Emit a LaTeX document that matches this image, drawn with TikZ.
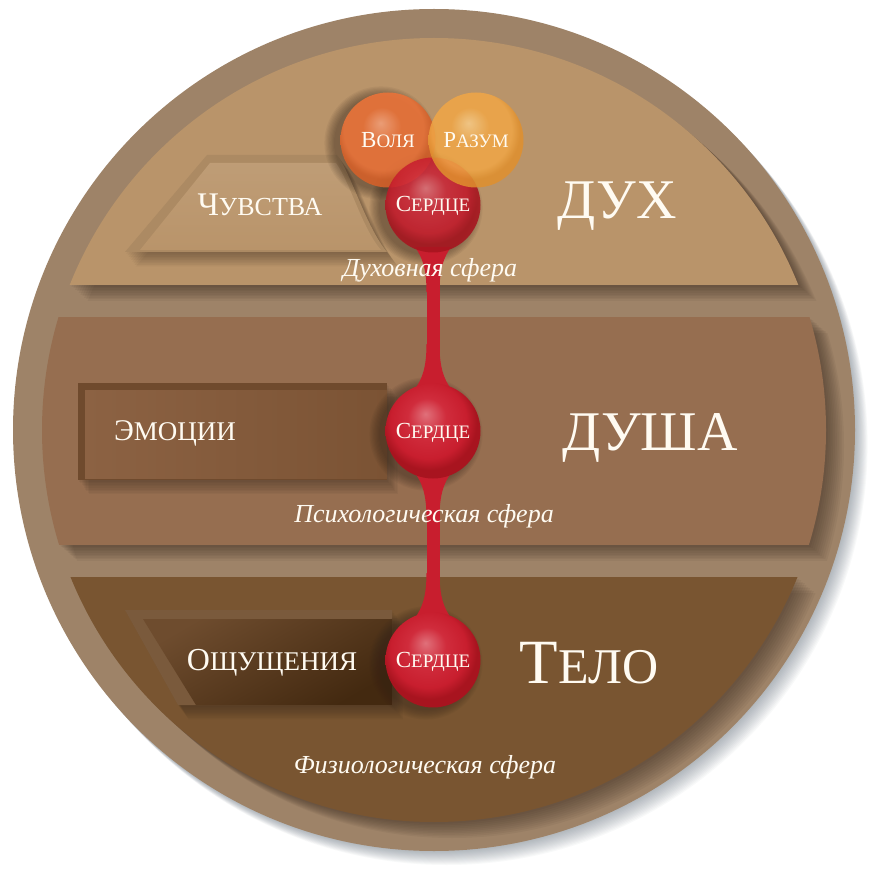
\documentclass[tikz,border=0pt]{standalone}
\usepackage{fontspec}
\setmainfont{Liberation Serif}
\usetikzlibrary{calc}

\definecolor{rim}{HTML}{9E8368}
\definecolor{bandA}{HTML}{B9946A}
\definecolor{bandB}{HTML}{966E50}
\definecolor{bandC}{HTML}{795531}
\definecolor{shd}{HTML}{32241A}
\definecolor{oshd}{HTML}{4E5C6A}
\definecolor{txtw}{HTML}{FFFBF2}
\definecolor{redA}{HTML}{C81E2E}
\definecolor{redhl}{HTML}{E0707A}
\definecolor{redmid}{HTML}{D02C3C}
\definecolor{reddk}{HTML}{A8141F}
\definecolor{orA}{HTML}{E8733A}
\definecolor{orhl}{HTML}{F4A27A}
\definecolor{ordk}{HTML}{D2602A}
\definecolor{yeA}{HTML}{F0A646}
\definecolor{yehl}{HTML}{F8CC88}
\definecolor{yedk}{HTML}{E0902E}
\definecolor{emoOut}{HTML}{6F4A2D}
\definecolor{emoL}{HTML}{8C6243}
\definecolor{emoR}{HTML}{7B5334}
\definecolor{oshOut}{HTML}{7A5A3C}
\definecolor{oshL}{HTML}{6E4C2E}
\definecolor{oshD}{HTML}{432910}

\pgfdeclareradialshading{redball}{\pgfpoint{-4bp}{9bp}}{color(0bp)=(redhl); color(10bp)=(redmid); color(20bp)=(redA); color(25bp)=(reddk); color(50bp)=(reddk)}
\pgfdeclareradialshading{orball}{\pgfpoint{-4bp}{9bp}}{color(0bp)=(orhl); color(10bp)=(orA); color(21bp)=(orA); color(25bp)=(ordk); color(50bp)=(ordk)}
\pgfdeclareradialshading{yeball}{\pgfpoint{-4bp}{9bp}}{color(0bp)=(yehl); color(10bp)=(yeA); color(21bp)=(yeA); color(25bp)=(yedk); color(50bp)=(yedk)}

\newcommand\fs[2]{{\fontsize{#1}{#1}\selectfont #2}}
\newcommand\scw[4]{\fs{#1}{#3}\fs{#2}{#4}}
\newcommand\labl[4]{\node[lbl] (#1) at (#2,#3) {#4};}
\newcommand\stemflare[2]{%
  \fill[redA] (426.5,{#1+#2*40}) .. controls (426.5,{#1+#2*16}) and (422,{#1+#2*5}) .. (415,{#1-#2*5})
   -- (451,{#1-#2*5}) .. controls (444,{#1+#2*5}) and (439.5,{#1+#2*16}) .. (439.5,{#1+#2*40}) -- cycle;}

\tikzset{
  lbl/.style={anchor=base, text=txtw, inner sep=0pt},
  ball/.style={circle, minimum size=95pt, inner sep=0pt, shade},
  heartball/.style={ball, shading=redball},
  anchorball/.style={circle, minimum size=95pt, inner sep=0pt},
  stem/.style={draw=redA, line width=13pt}
}

\begin{document}
\begin{tikzpicture}[x=1pt,y=-1pt]
\useasboundingbox (0,0) rectangle (878,877);
\fill[white] (0,0) rectangle (878,877);

% outer drop shadow
\foreach \k in {1,...,14}
  \fill[oshd, opacity=0.035] (434+\k*0.9,430+\k*1.0) circle (421);

% outer rim
\fill[rim] (434,430) circle (421);

% band shadows
\begin{scope}
  \clip (434,430) circle (421);
  \foreach \k in {1,...,10}{
    \begin{scope}[shift={(\k*1.8,\k*1.6)}]
      \clip (434,430) circle (392);
      \fill[shd, opacity=0.06] (0,0) rectangle (878,285);
      \fill[shd, opacity=0.06] (0,317) rectangle (878,545);
      \fill[shd, opacity=0.06] (0,577) rectangle (878,877);
    \end{scope}
  }
\end{scope}

% bands
\begin{scope}
  \clip (434,430) circle (392);
  \fill[bandA] (0,0) rectangle (878,285);
  \fill[bandB] (0,317) rectangle (878,545);
  \fill[bandC] (0,577) rectangle (878,877);
\end{scope}

% box shadows
\foreach \k in {1,...,9}{
  \begin{scope}[shift={(\k*1.2,\k*1.6)}]
    \fill[shd, opacity=0.05] (207,155) -- (337,155) .. controls (352,175) and (365,225) .. (387,252) -- (125,252) -- cycle;
    \fill[shd, opacity=0.05] (78,383) rectangle (387,480);
    \fill[shd, opacity=0.06] (125,610) -- (392,610) -- (392,705) -- (178,705) -- cycle;
  \end{scope}
}

% Chuvstva box
\fill[bandA!93!black] (207,155) -- (337,155) .. controls (352,175) and (365,225) .. (387,252) -- (125,252) -- cycle;
\shade[top color=bandA!92!white, bottom color=bandA] (210,163) -- (336,163) .. controls (350,182) and (362,228) .. (381,250) -- (140,250) -- cycle;

% Emotsii box
\fill[emoOut] (78,383) rectangle (387,480);
\shade[left color=emoL, right color=emoR] (85,390) rectangle (387,478);

% Oshchushcheniya box
\fill[oshOut] (125,610) -- (392,610) -- (392,705) -- (178,705) -- cycle;
\shade[top color=oshL, bottom color=oshD, shading angle=30] (143,619) -- (392,619) -- (392,705) -- (196,705) -- cycle;

% heart shadows
\foreach \cx/\cy in {433/205, 388/140, 433/431, 433/660}{
  \foreach \k in {0,...,8}
    \fill[shd, opacity=0.06] (\cx-7,\cy+3) circle (47+\k*1.2);
}

% stem (connectors)
\node[anchorball] (h1) at (433,205) {};
\node[anchorball] (h2) at (433,431) {};
\node[anchorball] (h3) at (433,660) {};
\draw[stem] (h1) -- (h2);
\draw[stem] (h2) -- (h3);
\stemflare{252}{1}
\stemflare{384}{-1}
\stemflare{478}{1}
\stemflare{613}{-1}

% balls
\node[ball, shading=orball, fill opacity=0.92] (volya) at (388,140) {};
\node[heartball, fill opacity=0.88] (heart1) at (433,205) {};
\node[ball, shading=yeball, fill opacity=0.86] (razum) at (476,140) {};
\node[heartball] (heart2) at (433,431) {};
\node[heartball] (heart3) at (433,660) {};

% ball texts
\labl{tVolya}{388}{148}{\scw{23}{19}{В}{ОЛЯ}}
\labl{tRazum}{476}{148}{\scw{23}{19}{Р}{АЗУМ}}
\labl{tS1}{433}{212}{\scw{23}{19}{С}{ЕРДЦЕ}}
\labl{tS2}{433}{438}{\scw{23}{19}{С}{ЕРДЦЕ}}
\labl{tS3}{433}{667}{\scw{23}{19}{С}{ЕРДЦЕ}}

% box texts
\labl{tChuv}{260}{216}{\scw{33}{26}{Ч}{УВСТВА}}
\labl{tEmo}{175}{440}{\scw{30}{27}{Э}{МОЦИИ}}
\labl{tOsh}{272}{670}{\scw{32}{27}{О}{ЩУЩЕНИЯ}}

% big titles
\labl{tDux}{617}{219}{\fs{56}{ДУХ}}
\labl{tDusha}{650}{450}{\fs{56}{ДУША}}
\labl{tTelo}{589}{683}{\scw{63}{50}{Т}{ЕЛО}}

% sphere labels
\labl{tSf1}{430}{277}{\fs{26}{\itshape Духовная сфера}}
\labl{tSf2}{424}{522}{\fs{26}{\itshape Психологическая сфера}}
\labl{tSf3}{425}{773}{\fs{26}{\itshape Физиологическая сфера}}
\end{tikzpicture}
\end{document}
